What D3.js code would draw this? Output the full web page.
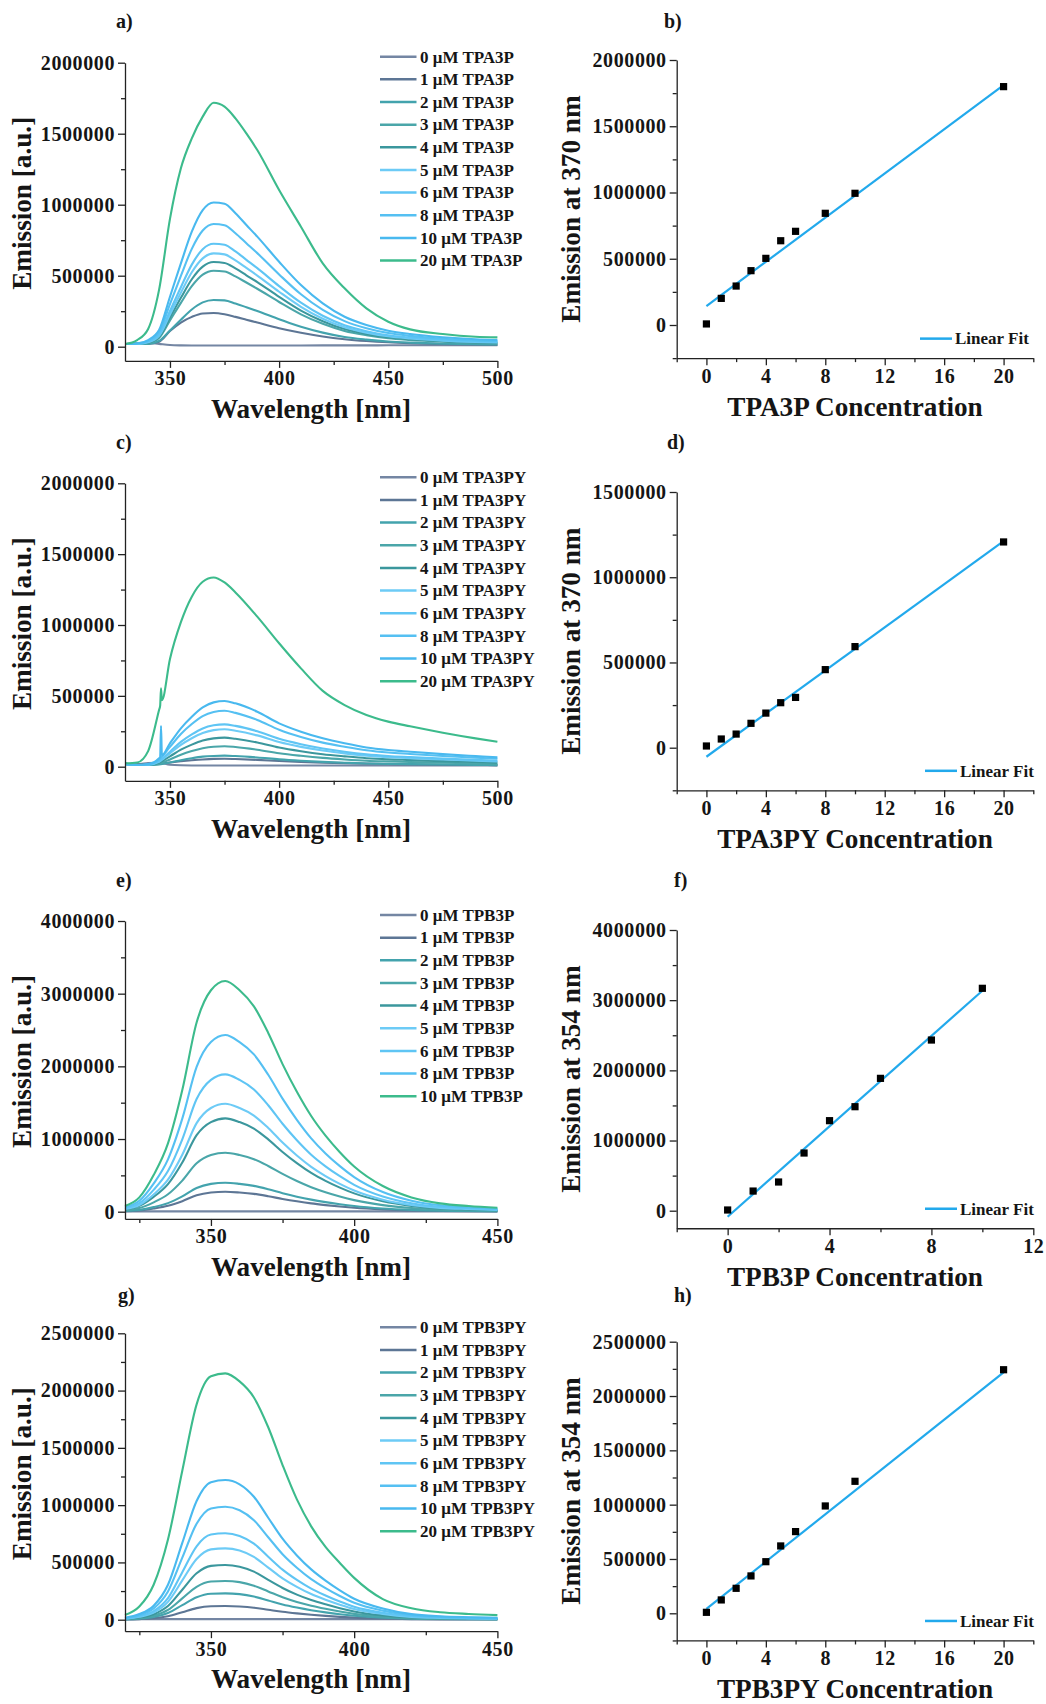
<!DOCTYPE html>
<html><head><meta charset="utf-8">
<script src="https://cdn.jsdelivr.net/npm/d3@7"></script>
<style>
body{margin:0;background:#fff;}
svg text{font-family:'Liberation Serif','Times New Roman',serif;font-weight:bold;fill:#151515;}
.tick text{font-size:20px;letter-spacing:0.6px;}
.ttl{font-size:27.2px;}
.leg{font-size:17px;}
.plab{font-size:20px;}
.domain,.tick line{stroke:#222;stroke-width:1.3px;}
</style></head><body>
<svg id="c" width="1046" height="1704"></svg>
<script>
// ---------- DATA (emission values in thousands of a.u.) ----------
const concTen = [0,1,2,3,4,5,6,8,10,20];
const concNine = [0,1,2,3,4,5,6,8,10];

// Panel a: TPA3P spectra
const wlA = [329.5,335,340,345,350,355,360,365,370,375,380,385,390,400,410,420,430,440,450,460,475,490,500];
const a0  = [19,26,28,20,12,9,8,8,8,8,8,8,8,8,8,9,9,9,10,10,10,10,10];
const a1  = [19,19,20,35,110,170,210,234,237,228,210,190,170,130,98,72,53,40,31,25,19,15,13];
const a2  = [19,19,20,40,114,190,262,312,329,326,304,278,251,194,140,99,68,50,37,29,21,17,15];
const a3  = [19,20,26,62,185,309,426,507,535,530,495,452,408,315,228,161,111,81,59,47,35,27,25];
const a4  = [19,20,28,69,206,344,475,564,596,590,551,503,455,351,254,179,124,90,66,52,39,30,27];
const a5  = [19,20,31,76,227,380,524,622,657,650,608,555,501,387,281,197,137,99,73,58,43,34,30];
const a6  = [19,21,34,83,251,419,578,687,725,718,671,612,553,427,310,218,151,109,80,64,47,37,33];
const a8  = [19,22,40,100,299,499,689,818,864,855,799,729,659,509,369,259,180,130,96,76,56,44,40];
const a10 = [19,23,47,117,352,587,810,962,1016,1006,940,857,775,598,434,305,211,153,113,89,66,52,47];
const a20 = [19,47,125,400,900,1256,1467,1620,1718,1690,1608,1502,1385,1103,845,587,411,270,176,122,89,70,66];

// Panel c: TPA3PY spectra
const wlC = [329.5,335,340,345,350,355,360,365,370,375,380,390,400,410,420,430,440,450,460,475,490,500];
const c0  = [20,18,25,28,14,10,9,9,9,9,9,9,9,9,9,9,9,9,9,9,9,9];
const c1  = [20,14,15,20,30,38,45,51,55,56,54,48,40,34,29,25,22,19,17,14,12,11];
const c2  = [20,12,12,16,30,46,60,71,76,78,75,65,52,42,34,28,23,20,18,15,13,11];
const c3  = [20,12,13,22,51,84,110,130,141,144,139,120,95,77,62,51,42,37,33,28,23,20];
const c4  = [20,12,13,28,73,120,156,185,200,205,197,171,135,109,88,73,60,52,47,39,33,29];
const c5  = [20,12,14,35,94,154,201,238,258,264,254,221,174,140,114,94,77,67,60,51,43,37];
const c6  = [20,12,14,40,106,175,228,270,292,299,288,250,197,159,129,106,88,76,68,57,48,42];
const c8  = [20,12,16,50,140,231,301,357,386,395,380,330,261,210,170,141,116,100,90,76,64,56];
const c10 = [20,12,18,59,165,271,353,419,454,464,447,388,306,247,200,165,136,118,106,89,75,66];
const c20 = [24,30,110,400,760,1020,1200,1305,1335,1300,1230,1059,871,694,535,435,365,318,285,240,200,176];
// narrow spike near 346 nm
const spikeWlC = [345.5,345.9,346.3];
const spikeC10 = [68,287,80];
const spikeC20 = [430,553,470];

// Panel e: TPB3P spectra
const wlE = [320,325,330,335,340,345,350,355,360,365,370,375,380,385,390,395,400,410,420,430,440,450];
const e0  = [5,5,5,5,5,5,5,5,5,5,5,5,5,5,5,5,5,5,5,5,5,5];
const e1  = [7,17,44,81,145,226,264,275,264,245,213,176,143,114,91,71,54,31,17,10,7,5];
const e2  = [10,25,63,118,210,327,383,399,383,355,309,255,207,166,132,103,78,44,25,14,10,7];
const e3  = [20,50,129,240,428,666,780,812,780,723,629,520,422,337,268,209,159,90,50,29,20,14];
const e4  = [32,80,204,380,677,1053,1233,1284,1233,1143,995,822,668,533,424,331,252,143,80,46,32,22];
const e5  = [37,92,236,440,783,1219,1427,1486,1427,1323,1152,951,773,617,490,383,291,165,92,53,37,25];
const e6  = [46,117,301,559,996,1550,1814,1890,1814,1682,1465,1210,983,784,624,488,370,210,117,68,47,32];
const e8  = [60,151,387,720,1281,1993,2334,2431,2334,2164,1884,1556,1264,1009,802,627,476,270,151,88,61,41];
const e10 = [78,197,505,940,1674,2603,3047,3174,3047,2825,2460,2031,1650,1317,1047,819,622,353,197,115,78,55];

// Panel g: TPB3PY spectra
const wlG = [320,325,330,335,340,345,350,355,360,365,370,375,380,385,390,395,400,410,420,430,440,450];
const g0  = [5,5,5,5,5,5,5,5,5,5,5,5,5,5,5,5,5,5,5,5,5,5];
const g1  = [2,5,12,30,65,101,117,119,115,105,87,69,55,43,33,25,18,10,5,3,2,2];
const g2  = [3,9,23,58,127,196,227,230,223,202,168,133,106,83,64,48,35,18,9,6,4,3];
const g3  = [5,14,34,85,186,287,333,338,328,297,247,196,155,122,95,71,51,27,14,8,6,5];
const g4  = [7,19,48,119,262,405,470,477,463,420,348,277,219,172,134,100,72,38,19,12,9,7];
const g5  = [9,25,62,156,343,530,614,623,604,548,455,361,287,224,174,131,93,50,25,16,11,9];
const g6  = [11,30,75,189,415,641,743,754,731,664,550,437,347,271,211,158,113,60,30,19,14,11];
const g8  = [14,39,99,247,542,838,971,986,956,868,720,572,454,355,276,207,148,79,39,25,18,14];
const g10 = [17,49,122,305,670,1036,1200,1219,1182,1073,890,707,561,439,341,256,183,98,49,30,22,17];
const g20 = [41,115,305,700,1300,1880,2125,2150,2080,1940,1680,1350,1050,815,635,495,365,180,100,65,50,40];

// Calibration points (emission at fixed wavelength)
const concB = [0,1,2,3,4,5,6,8,10,20];
const emB   = [8000,201000,294000,410000,503000,636000,707000,843000,994000,1799000];
const fitXB = [0,20], fitYB = [143000,1811000];
const concD = [0,1,2,3,4,5,6,8,10,20];
const emD   = [10000,51000,80000,143000,203000,264000,295000,458000,593000,1207000];
const fitXD = [0,20], fitYD = [-53000,1212000];
const concF = [0,1,2,3,4,5,6,8,10];
const emF   = [10000,280000,409000,822000,1283000,1482000,1886000,2432000,3169000];
const fitXF = [0,10], fitYF = [-86000,3135000];
const concH = [0,1,2,3,4,5,6,8,10,20];
const emH   = [9000,123000,230000,344000,475000,620000,752000,988000,1215000,2242000];
const fitXH = [0,20], fitYH = [40000,2218000];

// ---------- STYLE ----------
const colTen  = ['#7486a3','#5d7695','#43a3ad','#4aa6a9','#3b979d','#6dcbf6','#5fc5f4','#55c0f2','#49b9ef','#3cbb8c'];
const colNine = ['#7486a3','#5d7695','#43a3ad','#4aa6a9','#3b979d','#6dcbf6','#5fc5f4','#55c0f2','#3cbb8c'];
const fitColor = '#22a9ec';

const svg = d3.select('#c');
const fmt = d3.format('d');

function axes(g, x, y, xMaj, xMin, yMaj, yMin) {
  const yb = y.range()[0], xl = x.range()[0];
  const bx = g.append('g').attr('transform', `translate(0,${yb})`)
    .call(d3.axisBottom(x).tickValues(xMaj).tickSize(7).tickSizeOuter(0).tickPadding(3.3).tickFormat(fmt));
  const bm = g.append('g').attr('transform', `translate(0,${yb})`)
    .call(d3.axisBottom(x).tickValues(xMin).tickSize(4).tickSizeOuter(0).tickFormat(''));
  bm.select('.domain').remove();
  const ly = g.append('g').attr('transform', `translate(${xl},0)`)
    .call(d3.axisLeft(y).tickValues(yMaj).tickSize(7).tickSizeOuter(0).tickPadding(3).tickFormat(fmt));
  const lm = g.append('g').attr('transform', `translate(${xl},0)`)
    .call(d3.axisLeft(y).tickValues(yMin).tickSize(4).tickSizeOuter(0).tickFormat(''));
  lm.select('.domain').remove();
  g.selectAll('.tick text').attr('fill', null);
  [bx,bm,ly,lm].forEach(a => a.attr('font-family', null).attr('font-size', null));
}

function yScale(yMin, yMax, px0, pxMax) {
  const per = (px0 - pxMax) / yMax;
  return d3.scaleLinear().domain([yMin, yMax]).range([px0 - yMin * per, pxMax]);
}

function spectra(p) {
  const g = svg.append('g');
  const x = d3.scaleLinear().domain(p.xDom).range([125, 497.4]);
  const y = yScale(p.yMin, p.yMax, p.px0, p.pxMax);
  const line = d3.line().x(d => x(d[0])).y(d => y(d[1] * 1000)).curve(d3.curveMonotoneX);
  p.series.forEach((s, i) => {
    let pts = p.wl.map((w, j) => [w, s[j]]);
    if (p.extra && p.extra[i]) {
      pts = pts.concat(p.extra[i].wl.map((w, j) => [w, p.extra[i].v[j]])).sort((m, n) => m[0] - n[0]);
    }
    g.append('path').attr('d', line(pts)).attr('fill', 'none')
      .attr('stroke', p.colors[i]).attr('stroke-width', 2.1).attr('stroke-linejoin', 'round');
  });
  axes(g, x, y, p.xMaj, p.xMin, p.yMaj, p.yMin2);
  // legend
  const ly0 = p.pxMax - 6;
  p.conc.forEach((c, i) => {
    const yy = ly0 + i * 22.65;
    g.append('line').attr('x1', 380).attr('x2', 416.5).attr('y1', yy).attr('y2', yy)
      .attr('stroke', p.colors[i]).attr('stroke-width', 2.5);
    g.append('text').attr('class', 'leg').attr('x', 420).attr('y', yy + 5.8).text(`${c} μM ${p.name}`);
  });
  const yb = y.range()[0];
  g.append('text').attr('class', 'ttl').attr('text-anchor', 'middle')
    .attr('x', 311).attr('y', yb + 57).text('Wavelength [nm]');
  const cy = (yb + p.pxMax) / 2 - 8.5;
  g.append('text').attr('class', 'ttl').attr('text-anchor', 'middle')
    .attr('transform', `translate(30.5,${cy}) rotate(-90)`).text('Emission [a.u.]');
  g.append('text').attr('class', 'plab').attr('x', p.lx).attr('y', p.ly).text(p.label);
}

function calib(p) {
  const g = svg.append('g');
  const x = d3.scaleLinear().domain(p.xDom).range([676.7, 1033.3]);
  const y = yScale(p.yMin, p.yMax, p.px0, p.pxMax);
  axes(g, x, y, p.xMaj, p.xMin, p.yMaj, p.yMin2);
  g.append('path').attr('d', d3.line().x(d => x(d[0])).y(d => y(d[1]))(p.fx.map((v, i) => [v, p.fy[i]])))
    .attr('stroke', fitColor).attr('stroke-width', 2.2).attr('fill', 'none');
  g.selectAll('rect.pt').data(p.cx.map((v, i) => [v, p.cy[i]])).enter().append('rect')
    .attr('x', d => x(d[0]) - 3.6).attr('y', d => y(d[1]) - 3.6).attr('width', 7.2).attr('height', 7.2).attr('fill', '#000');
  const yb = y.range()[0];
  const lyy = yb - 19.5;
  g.append('line').attr('x1', p.legX).attr('x2', p.legX + 32).attr('y1', lyy).attr('y2', lyy)
    .attr('stroke', fitColor).attr('stroke-width', 2.5);
  g.append('text').attr('class', 'leg').attr('x', p.legX + 35).attr('y', lyy + 5.8).text('Linear Fit');
  g.append('text').attr('class', 'ttl').attr('text-anchor', 'middle')
    .attr('x', 855).attr('y', yb + 57.5).text(p.xTitle);
  const cyy = (yb + p.pxMax) / 2;
  g.append('text').attr('class', 'ttl').attr('text-anchor', 'middle')
    .attr('transform', `translate(580,${cyy}) rotate(-90)`).text(p.yTitle);
  g.append('text').attr('class', 'plab').attr('x', p.lx).attr('y', p.ly).text(p.label);
}

const r = (a, b, s) => d3.range(a, b + 1, s);

spectra({label:'a)', lx:116, ly:27.5, name:'TPA3P', wl:wlA, series:[a0,a1,a2,a3,a4,a5,a6,a8,a10,a20], conc:concTen, colors:colTen,
  xDom:[329.4,500], xMaj:[350,400,450,500], xMin:[375,425,475],
  yMin:-100000, yMax:2000000, px0:346.7, pxMax:62.7, yMaj:r(0,2000000,500000), yMin2:r(250000,1750000,500000)});
spectra({label:'c)', lx:116, ly:449, name:'TPA3PY', wl:wlC, series:[c0,c1,c2,c3,c4,c5,c6,c8,c10,c20], conc:concTen, colors:colTen,
  extra:{8:{wl:spikeWlC, v:spikeC10}, 9:{wl:spikeWlC, v:spikeC20}},
  xDom:[329.4,500], xMaj:[350,400,450,500], xMin:[375,425,475],
  yMin:-100000, yMax:2000000, px0:766.7, pxMax:483.3, yMaj:r(0,2000000,500000), yMin2:r(250000,1750000,500000)});
spectra({label:'e)', lx:116, ly:887, name:'TPB3P', wl:wlE, series:[e0,e1,e2,e3,e4,e5,e6,e8,e10], conc:concNine, colors:colNine,
  xDom:[320,450], xMaj:[350,400,450], xMin:[325,375,425],
  yMin:-100000, yMax:4000000, px0:1211.7, pxMax:921, yMaj:r(0,4000000,1000000), yMin2:r(500000,3500000,1000000)});
spectra({label:'g)', lx:118, ly:1302, name:'TPB3PY', wl:wlG, series:[g0,g1,g2,g3,g4,g5,g6,g8,g10,g20], conc:concTen, colors:colTen,
  xDom:[320,450], xMaj:[350,400,450], xMin:[325,375,425],
  yMin:-100000, yMax:2500000, px0:1619.7, pxMax:1333.3, yMaj:r(0,2500000,500000), yMin2:r(250000,2250000,500000)});

calib({label:'b)', lx:664, ly:27.5, xTitle:'TPA3P Concentration', yTitle:'Emission at 370 nm', legX:920,
  cx:concB, cy:emB, fx:fitXB, fy:fitYB, xDom:[-2,22], xMaj:r(0,20,4), xMin:r(-2,22,4),
  yMin:-250000, yMax:2000000, px0:325, pxMax:60, yMaj:r(0,2000000,500000), yMin2:r(-250000,1750000,500000)});
calib({label:'d)', lx:667, ly:449, xTitle:'TPA3PY Concentration', yTitle:'Emission at 370 nm', legX:925,
  cx:concD, cy:emD, fx:fitXD, fy:fitYD, xDom:[-2,22], xMaj:r(0,20,4), xMin:r(-2,22,4),
  yMin:-250000, yMax:1500000, px0:747.7, pxMax:492, yMaj:r(0,1500000,500000), yMin2:r(-250000,1250000,500000)});
calib({label:'f)', lx:674, ly:887, xTitle:'TPB3P Concentration', yTitle:'Emission at 354 nm', legX:925,
  cx:concF, cy:emF, fx:fitXF, fy:fitYF, xDom:[-2,12], xMaj:r(0,12,4), xMin:r(-2,10,4),
  yMin:-250000, yMax:4000000, px0:1210.7, pxMax:930, yMaj:r(0,4000000,1000000), yMin2:r(500000,3500000,1000000)});
calib({label:'h)', lx:674, ly:1302, xTitle:'TPB3PY Concentration', yTitle:'Emission at 354 nm', legX:925,
  cx:concH, cy:emH, fx:fitXH, fy:fitYH, xDom:[-2,22], xMaj:r(0,20,4), xMin:r(-2,22,4),
  yMin:-250000, yMax:2500000, px0:1613.3, pxMax:1341.7, yMaj:r(0,2500000,500000), yMin2:r(-250000,2250000,500000)});
</script></body></html>
